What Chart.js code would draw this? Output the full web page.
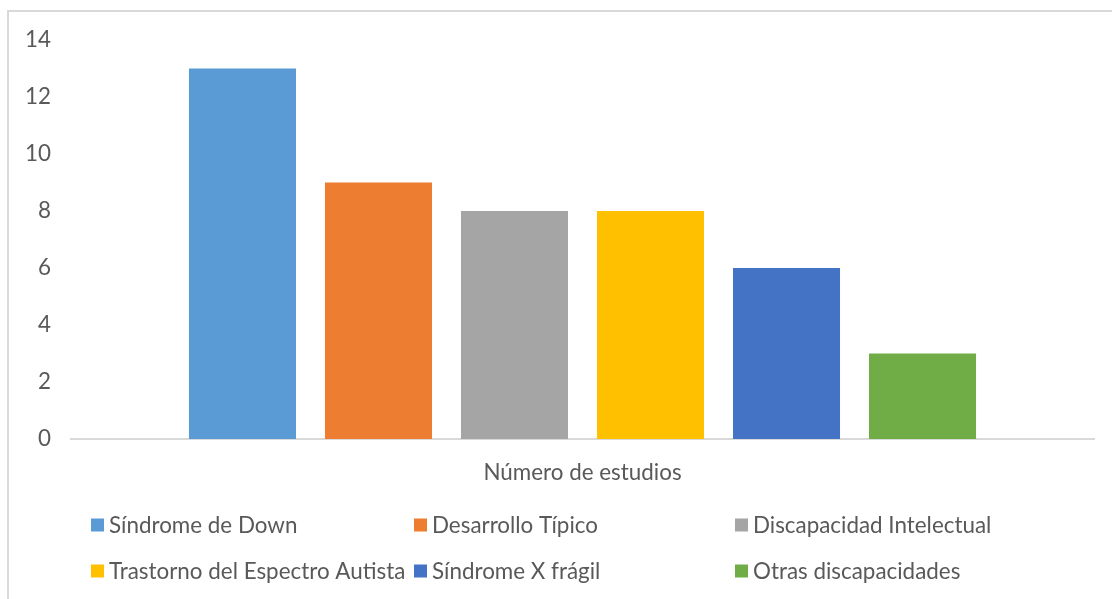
<!DOCTYPE html>
<html>
<head>
<meta charset="utf-8">
<script src="https://cdn.jsdelivr.net/npm/chart.js@4"></script>
<style>
  html, body { margin: 0; padding: 0; background: #ffffff; overflow: hidden; }
  #frame { position: absolute; left: 7px; top: 10px; width: 1200px; height: 700px; border: 2px solid #d9d9d9; box-sizing: border-box; }
  #wrap { position: absolute; left: 0; top: 0; width: 1112px; height: 599px; }
</style>
</head>
<body>
<div id="frame"></div>
<div id="wrap"><canvas id="c" width="1112" height="599"></canvas></div>
<script>
const categories = ["Número de estudios"];
const seriesNames = ["Síndrome de Down", "Desarrollo Típico", "Discapacidad Intelectual", "Trastorno del Espectro Autista", "Síndrome X frágil", "Otras discapacidades"];
const seriesValues = [13, 9, 8, 8, 6, 3];
const seriesColors = ["#5B9BD5", "#ED7D31", "#A5A5A5", "#FFC000", "#4472C4", "#70AD47"];
const yTicks = [0, 2, 4, 6, 8, 10, 12, 14];

const FONT = "Lato, 'Liberation Sans', sans-serif";
const TEXT = "#595959";
const FSIZE = 22.4;

const legendPlugin = {
  id: 'gridLegend',
  afterDraw(chart) {
    const ctx = chart.ctx;
    const colX = [91, 414, 735];
    const rowY = [525, 571];
    ctx.save();
    ctx.font = FSIZE + "px " + FONT;
    ctx.textBaseline = 'middle';
    ctx.textAlign = 'left';
    chart.data.datasets.forEach((ds, i) => {
      const x = colX[i % 3];
      const y = rowY[Math.floor(i / 3)];
      ctx.fillStyle = ds.backgroundColor;
      ctx.fillRect(x, y - 6.5, 13, 13);
      ctx.fillStyle = TEXT;
      ctx.fillText(ds.label, x + 18, y + 1);
    });
    ctx.restore();
  }
};

new Chart(document.getElementById('c'), {
  type: 'bar',
  data: {
    labels: categories,
    datasets: seriesNames.map((name, i) => ({
      label: name,
      data: [seriesValues[i]],
      backgroundColor: seriesColors[i],
      borderWidth: 0,
      categoryPercentage: 0.7977,
      barPercentage: 0.787
    }))
  },
  options: {
    responsive: false,
    animation: false,
    layout: { padding: { top: 40, right: 18, bottom: 115, left: 0 } },
    plugins: {
      legend: { display: false },
      tooltip: { enabled: false }
    },
    scales: {
      x: {
        grid: { display: false, drawTicks: false },
        border: { display: true, color: '#d9d9d9', width: 2 },
        ticks: { color: TEXT, font: { family: FONT, size: FSIZE }, padding: 20 },
        afterFit(scale) { scale.height = 45; }
      },
      y: {
        min: 0, max: 14,
        afterBuildTicks(scale) { scale.ticks = yTicks.map(v => ({ value: v })); },
        grid: { display: false, drawTicks: false },
        border: { display: false },
        ticks: { color: TEXT, font: { family: FONT, size: FSIZE }, padding: 20 },
        afterFit(scale) { scale.width = 71; }
      }
    }
  },
  plugins: [legendPlugin]
});
</script>
</body>
</html>
